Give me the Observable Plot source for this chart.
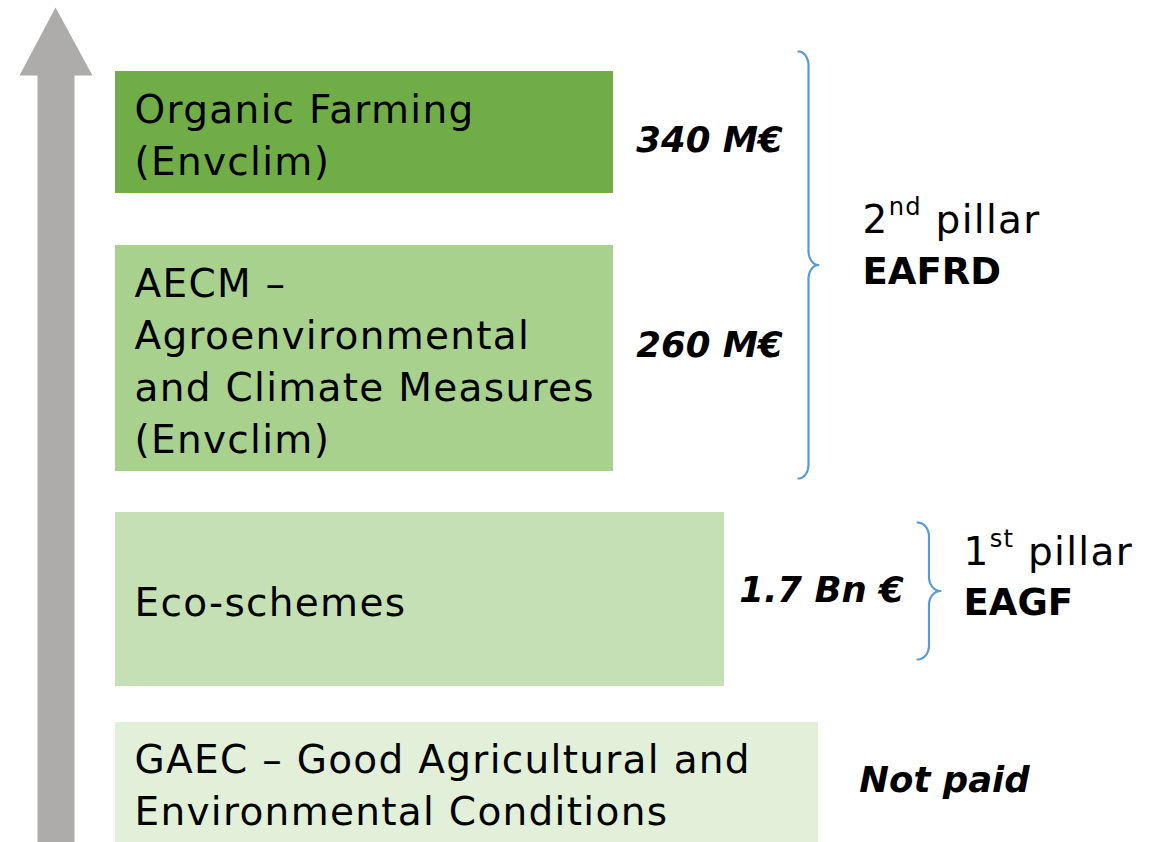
<!DOCTYPE html>
<html>
<head>
<meta charset="utf-8">
<script src="https://cdn.jsdelivr.net/npm/d3@7"></script>
<script src="https://cdn.jsdelivr.net/npm/@observablehq/plot@0.6"></script>
<style>
  html, body { margin: 0; padding: 0; background: #fff; }
  #chart svg { display: block; }
</style>
</head>
<body>
<div id="chart"></div>
<script>
// ---------- data ----------
const categories = [
  "Organic Farming\n(Envclim)",
  "AECM –\nAgroenvironmental\nand Climate Measures\n(Envclim)",
  "Eco-schemes",
  "GAEC – Good Agricultural and\nEnvironmental Conditions"
];
const amounts = ["340 M€", "260 M€", "1.7 Bn €", "Not paid"];
const barTop = [71, 245, 512, 722];
const barBottom = [193, 471, 686, 842];
const barEnd = [613, 613, 724, 818];
const pillars = ["2nd pillar", "1st pillar"];
const funds = ["EAFRD", "EAGF"];
const braceTop = [51, 522];
const braceBottom = [478, 659];

// ---------- styles ----------
const barColors = ["#70AD47", "#A9D18E", "#C5E0B4", "#E2F0D9"];
const FONT = "DejaVu Sans";
const labelSize = 39;
const amountSize = 35.5;

const bars = categories.map((c, i) => ({
  label: c, amount: amounts[i], top: barTop[i], bottom: barBottom[i],
  end: barEnd[i], color: barColors[i], mid: (barTop[i] + barBottom[i]) / 2
}));
const amountX = [709, 709, 821, 944];
const amountY = [140, 345, 590, 780];
const amountRows = amounts.map((a, i) => ({a, x: amountX[i], y: amountY[i]}));

// brace geometry generator
function brace(x0, top, bottom, d, r, id) {
  const mid = (top + bottom) / 2;
  const pts = [];
  const N = 12;
  for (let k = 0; k <= N; k++) { const t = -Math.PI / 2 + (Math.PI / 2) * k / N; pts.push({x: x0 + (d/2) * Math.cos(t), y: top + r + r * Math.sin(t), id}); }
  for (let k = 0; k <= N; k++) { const t = Math.PI - (Math.PI / 2) * k / N; pts.push({x: x0 + d + (d/2) * Math.cos(t), y: mid - r + r * Math.sin(t), id}); }
  for (let k = 0; k <= N; k++) { const t = -Math.PI / 2 - (Math.PI / 2) * k / N; pts.push({x: x0 + d + (d/2) * Math.cos(t), y: mid + r + r * Math.sin(t), id}); }
  for (let k = 0; k <= N; k++) { const t = 0 + (Math.PI / 2) * k / N; pts.push({x: x0 + (d/2) * Math.cos(t), y: bottom - r + r * Math.sin(t), id}); }
  return pts;
}
const braceX = [798, 917];
const braceD = [20, 23];
const bracePts = [
  ...brace(braceX[0], braceTop[0], braceBottom[0], braceD[0], 14, 0),
  ...brace(braceX[1], braceTop[1], braceBottom[1], braceD[1], 14, 1)
];
const pillarRows = [
  {p: pillars[0], f: funds[0], x: 862, y1: 220, y2: 272},
  {p: pillars[1], f: funds[1], x: 963, y1: 552, y2: 603}
];

// arrow polygon
const arrow = [
  {x: 55, y: 7}, {x: 92, y: 75}, {x: 74, y: 75}, {x: 74, y: 842},
  {x: 37, y: 842}, {x: 37, y: 75}, {x: 19, y: 75}, {x: 55, y: 7}
];

const plot = Plot.plot({
  width: 1150,
  height: 842,
  margin: 0,
  x: {domain: [0, 1150], range: [0, 1150], axis: null},
  y: {domain: [0, 842], range: [0, 842], axis: null},
  style: {fontFamily: FONT, background: "#fff"},
  marks: [
    Plot.line(arrow, {x: "x", y: "y", fill: "#AEABAB", stroke: "none", curve: "linear"}),
    Plot.rect(bars, {x1: 115, x2: "end", y1: "top", y2: "bottom", fill: "color"}),
    Plot.text(bars, {x: 134, y: "mid", text: "label", textAnchor: "start", lineAnchor: "middle",
      fontSize: labelSize, lineHeight: 1.33, fill: "#000"}),
    Plot.text(amountRows, {x: "x", y: "y", text: "a", fontSize: amountSize, fontWeight: "bold",
      fontStyle: "italic", fill: "#000"}),
    Plot.line(bracePts, {x: "x", y: "y", z: "id", stroke: "#5B9BD5", strokeWidth: 2.2, curve: "linear"}),
    Plot.text(pillarRows, {x: "x", y: "y1", text: "p", textAnchor: "start", fontSize: labelSize, fill: "#000"}),
    Plot.text(pillarRows, {x: "x", y: "y2", text: "f", textAnchor: "start", fontSize: 37, fontWeight: "bold", fill: "#000"})
  ]
});
document.getElementById("chart").appendChild(plot);

// wider tracking for regular-weight labels (reference typeface is wide)
const textGroups = d3.select(plot).selectAll('g[aria-label="text"]').nodes();
[0, 2].forEach(i => textGroups[i] && textGroups[i].setAttribute("letter-spacing", "1.3"));

// superscripts on ordinal suffixes
d3.select(plot).selectAll("text").each(function () {
  const t = d3.select(this);
  const s = t.text();
  const m = /^(\d)(st|nd|rd|th) (.*)$/.exec(s);
  if (m) {
    t.text(null);
    t.append("tspan").text(m[1]);
    t.append("tspan").attr("font-size", labelSize * 0.62).attr("dy", "-0.75em").text(m[2]);
    t.append("tspan").attr("dy", "0.47em").text(" " + m[3]);
  }
});
</script>
</body>
</html>
